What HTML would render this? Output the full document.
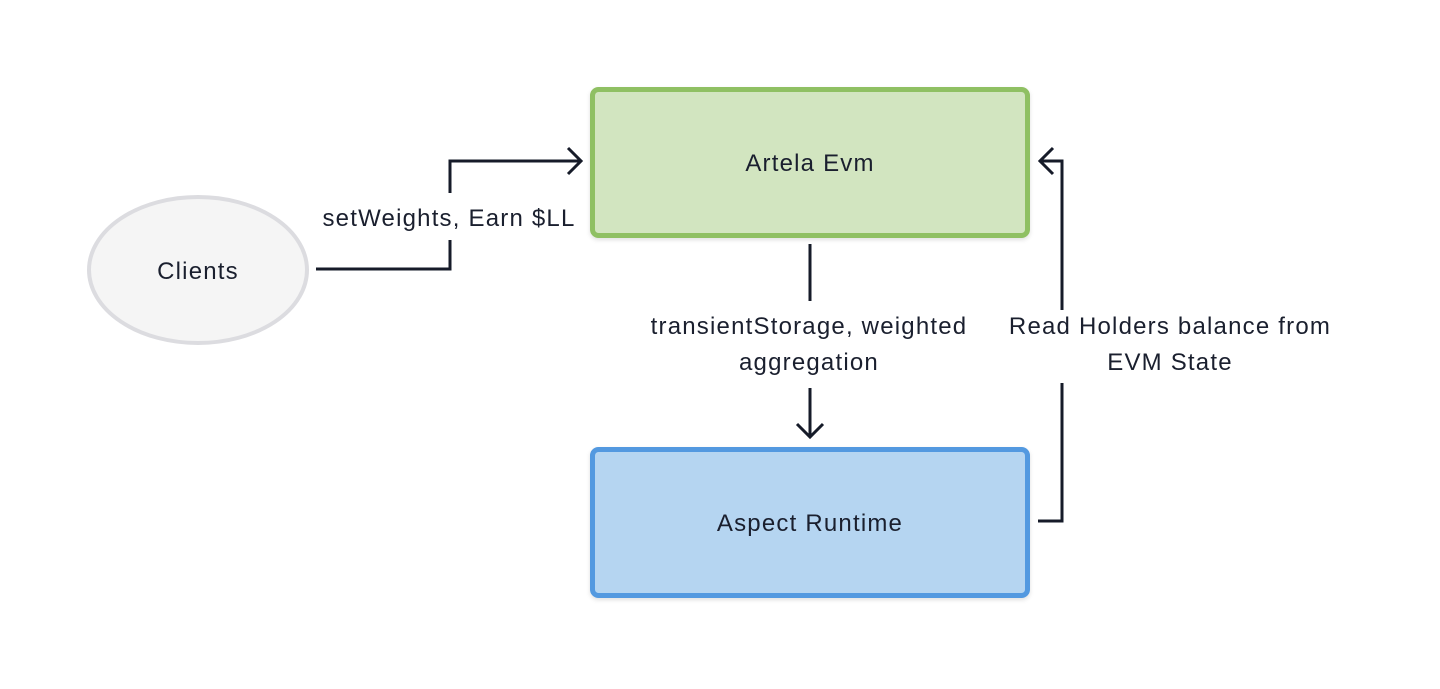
<!DOCTYPE html>
<html><head><style>
html,body{margin:0;padding:0;background:#fff;}
svg text{font-family:"Liberation Sans","DejaVu Sans",sans-serif;fill:#1a1f2e;font-size:24px;letter-spacing:1.2px;}
</style></head><body>
<svg width="1440" height="684" viewBox="0 0 1440 684" xmlns="http://www.w3.org/2000/svg">
<defs><filter id="s" x="-10%" y="-10%" width="120%" height="130%"><feDropShadow dx="0" dy="2" stdDeviation="2" flood-color="#000" flood-opacity="0.12"/></filter></defs>
<ellipse cx="198" cy="270" rx="109" ry="73" fill="#f5f5f5" stroke="#dcdce0" stroke-width="4"/>
<text x="198" y="279" text-anchor="middle">Clients</text>
<rect x="592.5" y="89.5" width="435" height="146" rx="6" fill="#d2e5c0" stroke="#8fc063" stroke-width="5" filter="url(#s)"/>
<text x="810" y="171" text-anchor="middle">Artela Evm</text>
<rect x="592.5" y="449.5" width="435" height="146" rx="6" fill="#b5d5f1" stroke="#5299e0" stroke-width="5" filter="url(#s)"/>
<text x="810" y="531" text-anchor="middle">Aspect Runtime</text>
<g stroke="#161b29" stroke-width="3" fill="none" stroke-linejoin="miter">
<polyline points="316,269 450,269 450,240"/>
<polyline points="450,193 450,161 581,161"/>
<polyline points="568,148 581,161 568,174"/>
<line x1="810" y1="244" x2="810" y2="301"/>
<line x1="810" y1="388" x2="810" y2="436"/>
<polyline points="797,424 810,437 823,424"/>
<polyline points="1038,521 1062,521 1062,383"/>
<polyline points="1062,310 1062,161 1040,161"/>
<polyline points="1053,148 1040,161 1053,174"/>
</g>
<text x="449" y="226" text-anchor="middle">setWeights, Earn $LL</text>
<text x="809" y="334" text-anchor="middle">transientStorage, weighted</text>
<text x="809" y="370" text-anchor="middle">aggregation</text>
<text x="1170" y="334" text-anchor="middle">Read Holders balance from</text>
<text x="1170" y="370" text-anchor="middle">EVM State</text>
</svg>
</body></html>
